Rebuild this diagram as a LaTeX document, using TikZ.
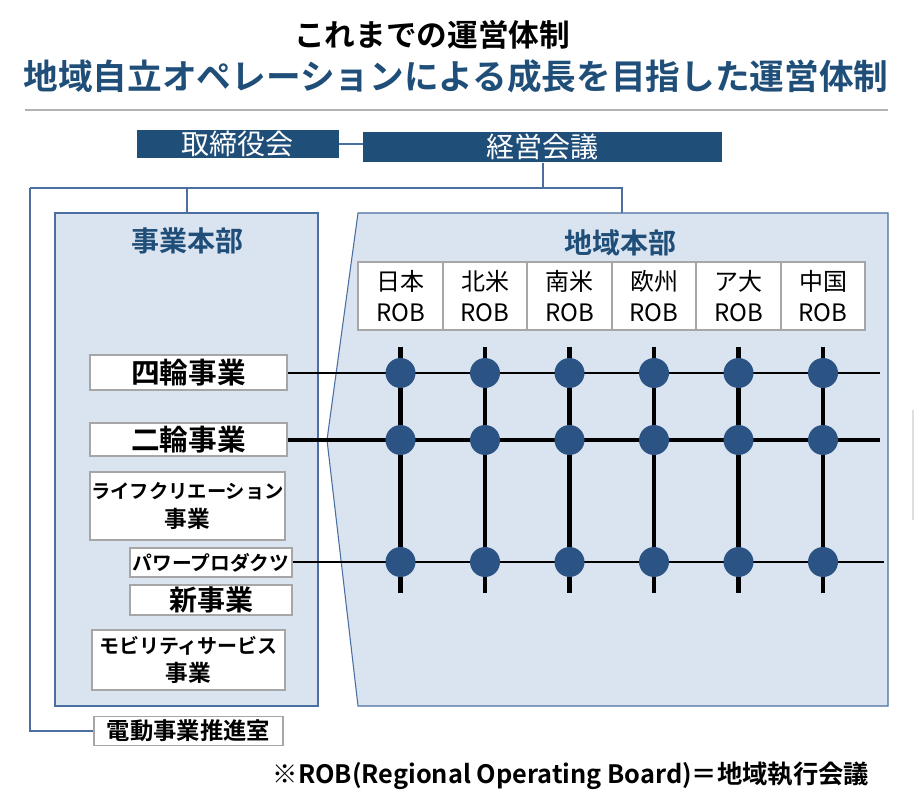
\documentclass[tikz,border=0pt]{standalone}
\usepackage{fontspec}
\setmainfont{Noto Sans CJK JP}[BoldFont=Noto Sans CJK JP Bold]
\definecolor{navy}{HTML}{1F4E79}
\definecolor{dotc}{HTML}{2B5485}
\definecolor{pane}{HTML}{DAE3F0}
\definecolor{edge}{HTML}{4A6FA0}
\begin{document}
\begin{tikzpicture}[x=0.75pt,y=-0.75pt,
  topbox/.style={draw=none,fill=navy,text=white,font=\fontsize{21}{23}\selectfont,inner sep=0},
  whitebox/.style={draw=gray!70,line width=1.2pt,fill=white,inner sep=0,align=center},
  conn/.style={draw=edge,line width=1pt},
  panel/.style={draw=edge,fill=pane,line width=0.8pt},
  dotn/.style={circle,fill=dotc,minimum size=22.5pt,inner sep=0}]
\useasboundingbox (0,0) rectangle (914,805);
\node[font=\fontsize{23}{25}\selectfont\bfseries] (t1) at (432,35) {これまでの運営体制};
\node[font=\fontsize{26}{28}\selectfont\bfseries,text=navy] (t2) at (456,76) {地域自立オペレーションによる成長を目指した運営体制};
\draw[gray!60,line width=0.8pt] (25,110) -- (888,110);
% top boxes
\node[topbox,minimum width=151.5pt,minimum height=21pt] (bod) at (237.5,144) {取締役会};
\node[topbox,minimum width=269pt,minimum height=23pt] (mgm) at (542.5,147) {経営会議};
\draw[conn] (bod.east) -- (bod.east -| mgm.west);
% panels
\draw[panel] (55,213) rectangle (318,706);
\coordinate (lp) at (187,213);
\draw[panel] (358,213) -- (888,213) -- (888,706) -- (358,706) -- (327,440) -- cycle;
\coordinate (rp) at (622,213);
\node[font=\fontsize{21}{23}\selectfont\bfseries,text=navy] (h1) at (187,241) {事業本部};
\node[font=\fontsize{21}{23}\selectfont\bfseries,text=navy] (h2) at (620,243) {地域本部};
% connectors
\coordinate (j1) at (543,188);
\draw[conn] (mgm.south -| j1) -- (j1);
\draw[conn] (30,188) -- (622,188) -- (rp);
\draw[conn] (187,188) -- (lp);
\node[whitebox,minimum width=142pt,minimum height=22pt,font=\fontsize{17.5}{19}\selectfont\bfseries] (ev) at (188.5,731) {電動事業推進室};
\draw[conn] (30,188) -- (30,731) -- (ev.west);
% ROB cells
\foreach \i/\a/\x in {1/日本/400.5,2/北米/485,3/南米/569.5,4/欧州/654,5/ア大/738.5,6/中国/823}{
  \node[whitebox,minimum width=63.4pt,minimum height=51pt,font=\fontsize{18}{23}\selectfont] (r\i) at (\x,296) {\a\\ROB};
}
% left boxes
\node[whitebox,minimum width=147.75pt,minimum height=26pt,font=\fontsize{21.5}{23}\selectfont\bfseries] (b1) at (188.5,372.5) {四輪事業};
\node[whitebox,minimum width=147.75pt,minimum height=25pt,font=\fontsize{21.5}{23}\selectfont\bfseries] (b2) at (188.5,439.5) {二輪事業};
\node[whitebox,minimum width=146pt,minimum height=51pt,font=\fontsize{14.5}{22}\selectfont\bfseries] (b3) at (187.5,506) {ライフクリエーション\\\fontsize{17}{22}\selectfont 事業};
\node[whitebox,minimum width=121.5pt,minimum height=22pt,font=\fontsize{14.8}{16}\selectfont\bfseries] (b4) at (211,562.5) {パワープロダクツ};
\node[whitebox,minimum width=121.5pt,minimum height=22.5pt,font=\fontsize{21}{22}\selectfont\bfseries] (b5) at (211,600) {新事業};
\node[whitebox,minimum width=144.75pt,minimum height=45pt,font=\fontsize{15}{21}\selectfont\bfseries] (b6) at (188.5,660) {モビリティサービス\\\fontsize{17}{21}\selectfont 事業};
% grid
\coordinate (e1) at (880,373);
\coordinate (e2) at (880,440);
\coordinate (e3) at (884,562);
\draw[line width=0.9pt] (b1.east |- e1) -- (e1);
\draw[line width=3.2pt] (b2.east |- e2) -- (e2);
\draw[line width=0.9pt] (b4.east |- e3) -- (e3);
\foreach \i in {1,...,6}{
  \coordinate (vb\i) at ([yshift=-12pt]r\i.south);
  \draw[line width=3.2pt] (vb\i) -- (r\i.south |- 0,593);
  \node[dotn] (d1\i) at (r\i.south |- e1) {};
  \node[dotn] (d2\i) at (r\i.south |- e2) {};
  \node[dotn] (d3\i) at (r\i.south |- e3) {};
}
\draw[gray!25,line width=2pt] (913,410) -- (913,520);
\node[anchor=east,font=\fontsize{19}{21}\selectfont\bfseries] (fn) at (874,776) {※ROB(Regional Operating Board)＝地域執行会議};
\end{tikzpicture}
\end{document}
